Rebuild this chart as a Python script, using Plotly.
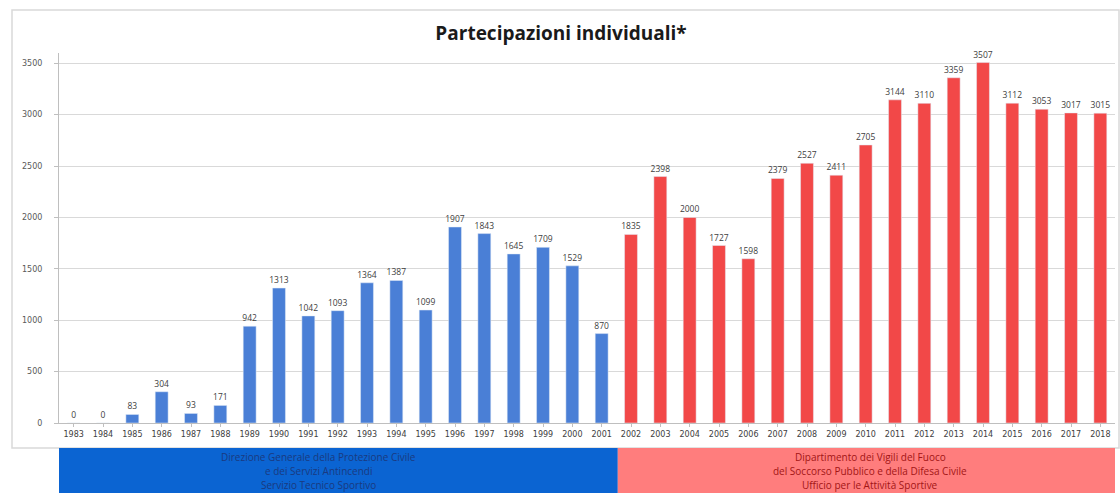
import plotly.graph_objects as go

# Data
years_blue = list(range(1983, 2002))
values_blue = [0, 0, 83, 304, 93, 171, 942, 1313, 1042, 1093, 1364, 1387, 1099,
               1907, 1843, 1645, 1709, 1529, 870]
years_red = list(range(2002, 2019))
values_red = [1835, 2398, 2000, 1727, 1598, 2379, 2527, 2411, 2705, 3144, 3110,
              3359, 3507, 3112, 3053, 3017, 3015]

title_text = "Partecipazioni individuali*"
blue_box_lines = ["Direzione Generale della Protezione Civile",
                  "e dei Servizi Antincendi",
                  "Servizio Tecnico Sportivo"]
red_box_lines = ["Dipartimento dei Vigili del Fuoco",
                 "del Soccorso Pubblico e della Difesa Civile",
                 "Ufficio per le Attività Sportive"]

# Layout geometry (pixels)
W, H = 1120, 493
ML, MR, MT, MB = 59, 5, 53, 70
PW, PH = W - ML - MR, H - MT - MB


def px_x(x):
    return (x - ML) / PW


def px_y(y):
    return (H - MB - y) / PH


BLUE_BAR = "#4a7fd6"
RED_BAR = "#f24848"
BLUE_BOX = "#0b64d2"
RED_BOX = "#ff7d7d"
TICK_FONT = "DejaVu Sans"

fig = go.Figure()
fig.add_trace(go.Bar(
    x=years_blue, y=values_blue, marker_color=BLUE_BAR, width=0.44,
    text=[str(v) for v in values_blue], textposition="outside",
    constraintext="none",
    textfont=dict(size=8.5, color="#404040"), cliponaxis=False,
))
fig.add_trace(go.Bar(
    x=years_red, y=values_red, marker_color=RED_BAR, width=0.44,
    text=[str(v) for v in values_red], textposition="outside",
    constraintext="none",
    textfont=dict(size=8.5, color="#404040"), cliponaxis=False,
))

# outer chart frame
fig.add_shape(type="rect", xref="paper", yref="paper",
              x0=px_x(12), x1=px_x(1119), y0=px_y(448), y1=px_y(10),
              line=dict(color="#d9d9d9", width=1.5), fillcolor="rgba(0,0,0,0)",
              layer="below")

# bottom boxes
fig.add_shape(type="rect", xref="x", yref="paper",
              x0=1982.5, x1=2001.55, y0=px_y(494), y1=px_y(448),
              line=dict(width=0), fillcolor=BLUE_BOX)
fig.add_shape(type="rect", xref="x", yref="paper",
              x0=2001.55, x1=2019, y0=px_y(494), y1=px_y(448),
              line=dict(width=0), fillcolor=RED_BOX)
for i, (lb, lr) in enumerate(zip(blue_box_lines, red_box_lines)):
    yy = px_y(457 + 14 * i)
    fig.add_annotation(xref="paper", yref="paper", x=px_x(318), y=yy,
                       xanchor="center", yanchor="middle", text=lb,
                       showarrow=False,
                       font=dict(size=10, color="#1a3a80", family="Open Sans"))
    fig.add_annotation(xref="paper", yref="paper", x=px_x(870), y=yy,
                       xanchor="center", yanchor="middle", text=lr,
                       showarrow=False,
                       font=dict(size=10, color="#a31515", family="Open Sans"))

fig.update_layout(
    width=W, height=H,
    margin=dict(l=ML, r=MR, t=MT, b=MB),
    paper_bgcolor="white", plot_bgcolor="white",
    showlegend=False,
    bargap=0.5,
    title=dict(text="<b>" + title_text + "</b>", x=561 / W, xanchor="center",
               y=1 - 33 / H, yanchor="middle",
               font=dict(size=19, color="#1a1a1a", family="Open Sans")),
    font=dict(family="Open Sans"),
)
fig.update_xaxes(
    range=[1982.5, 2018.5], tickmode="linear", dtick=1, tick0=1983,
    tickfont=dict(size=8, color="#404040", family=TICK_FONT),
    showgrid=False, showline=True, linecolor="#bfbfbf", linewidth=1,
    ticks="outside", ticklen=3, tickcolor="#bfbfbf", zeroline=False,
)
fig.update_yaxes(
    range=[0, 3600], tickvals=[0, 500, 1000, 1500, 2000, 2500, 3000, 3500],
    tickfont=dict(size=8, color="#595959", family=TICK_FONT),
    ticklabelstandoff=10,
    showgrid=True, gridcolor="#d9d9d9", gridwidth=1,
    showline=True, linecolor="#bfbfbf", linewidth=1,
    ticks="outside", ticklen=4, tickcolor="#bfbfbf", zeroline=False,
)

fig.write_html("out.html",
               config={"displayModeBar": False},
               post_script="document.body.style.margin='0';"
                           "document.body.style.overflow='hidden';")
